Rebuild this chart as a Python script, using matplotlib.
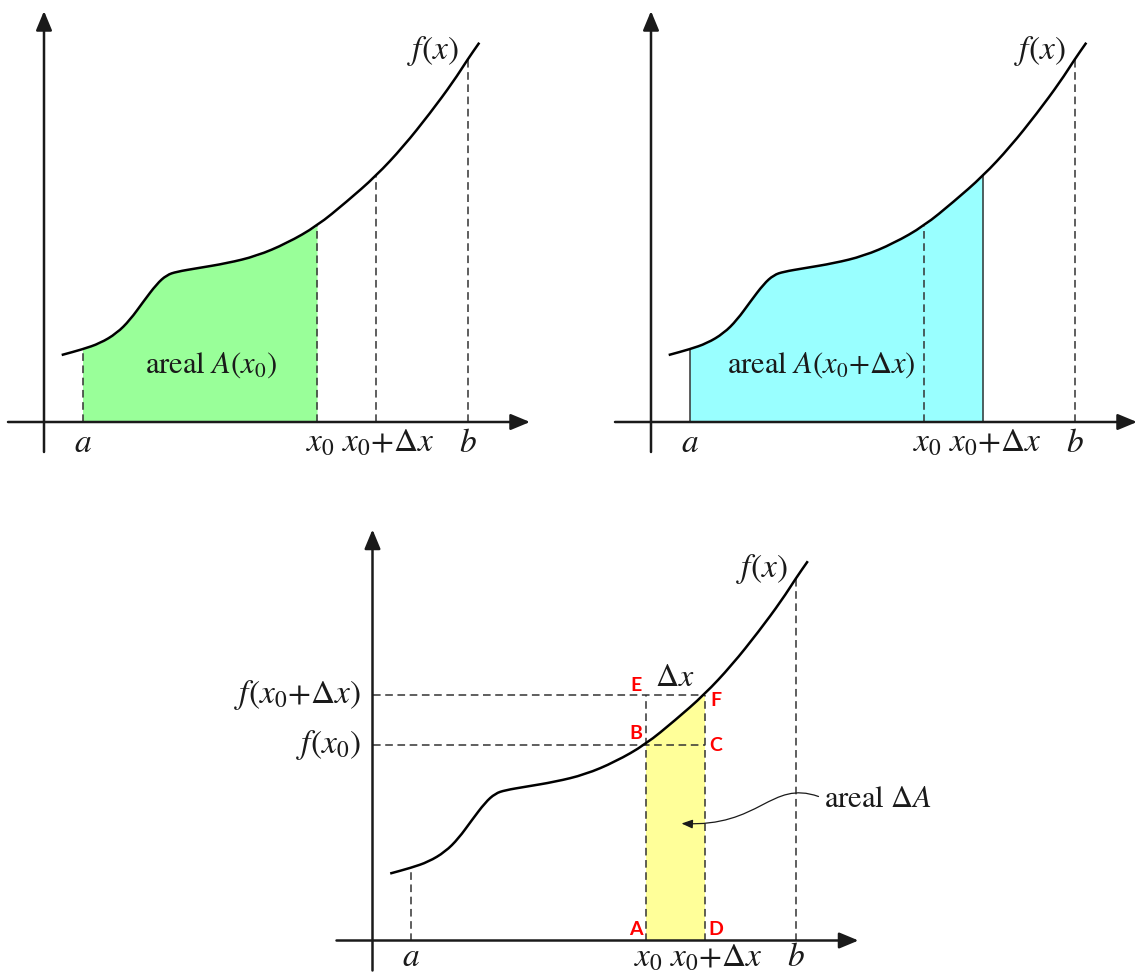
"""Areal under en kurve: A(x0), A(x0+dx) og tilvaeksten dA."""

import matplotlib
matplotlib.use('Agg')
import matplotlib.pyplot as plt
import numpy as np
from matplotlib.patches import FancyArrowPatch, PathPatch
from matplotlib.path import Path

plt.rcParams['mathtext.fontset'] = 'stix'
plt.rcParams['font.family'] = ['STIXGeneral', 'DejaVu Sans']

# kurven f(x), aflaest fra figuren (samme kurve i alle tre delfigurer)
curve_x = [17.7, 38.5, 56.0, 72.7, 86.0, 99.3, 112.7, 122.7, 132.7, 152.7,
           182.7, 212.7, 242.7, 273.0, 302.7, 332.0, 359.3, 386.0, 409.3,
           423.7, 435.3]
curve_y = [67.0, 72.7, 78.7, 88.7, 102.0, 120.3, 138.0, 147.0, 150.3, 153.7,
           158.7, 166.0, 178.7, 196.0, 220.3, 246.0, 275.3, 308.7, 340.3,
           362.7, 379.3]

# punkter paa x-aksen
pos_a = 38.5
pos_x0 = 273.0
pos_x1 = 332.0
pos_b = 423.7

tick_labels = ['$a$', '$x_0$', '$x_0{+}\\Delta x$', '$b$']
area_labels = ['areal $A(x_0)$', 'areal $A(x_0{+}\\Delta x)$', 'areal $\\Delta A$']
level_labels = ['$f(x_0{+}\\Delta x)$', '$f(x_0)$']
corner_labels = ['A', 'B', 'C', 'D', 'E', 'F']
fill_colors = ['#99ff99', '#99ffff', '#ffff99']

W, H = 1136, 974
DASH = (0, (5, 3))
INK = '#1a1a1a'


def fval(x):
    """Kurvens hoejde i et punkt paa x-aksen."""
    return float(np.interp(x, curve_x, curve_y))


def make_axes(fig, origin, box):
    """Axes hvor en enhed svarer til en pixel, med origo i akse-krydset."""
    ox, oy = origin
    left, top, right, bottom = box
    ax = fig.add_axes([left / W, (H - bottom) / H, (right - left) / W, (bottom - top) / H])
    ax.set_xlim(left - ox, right - ox)
    ax.set_ylim(oy - bottom, oy - top)
    ax.axis('off')
    return ax


def smooth_path(xs, ys):
    """Glat linje gennem de aflaeste punkter."""
    pts = np.column_stack([xs, ys])
    mids = (pts[:-1] + pts[1:]) / 2
    verts = [pts[0], mids[0]]
    codes = [Path.MOVETO, Path.LINETO]
    for i in range(1, len(pts) - 1):
        verts += [pts[i], mids[i]]
        codes += [Path.CURVE3, Path.CURVE3]
    verts.append(pts[-1])
    codes.append(Path.LINETO)
    return Path(verts, codes)


def fill_under(ax, lo, hi, color):
    xs = np.array(curve_x)
    ys = np.array(curve_y)
    inside = (xs > lo) & (xs < hi)
    fx = np.concatenate([[lo], xs[inside], [hi]])
    fy = np.concatenate([[fval(lo)], ys[inside], [fval(hi)]])
    ax.fill_between(fx, 0, fy, color=color, lw=0, zorder=1)


def vline(ax, x, top, dashed=True):
    ax.plot([x, x], [0, top], ls=DASH if dashed else '-', lw=1.1,
            color='#333333', zorder=2)


def draw_base(ax, label_y=-30):
    """Akser, kurve og tekst som er faelles for alle delfigurer."""
    for start, end in [((-36, 0), (486, 0)), ((0, -30), (0, 411))]:
        ax.add_patch(FancyArrowPatch(start, end,
                                     arrowstyle='-|>,head_length=0.65,head_width=0.27',
                                     mutation_scale=18, lw=1.8, color=INK,
                                     shrinkA=0, shrinkB=0, zorder=4))
    ax.add_patch(PathPatch(smooth_path(curve_x, curve_y), fill=False,
                           lw=1.8, color='black', zorder=5))
    ax.text(389, 371, '$f(x)$', ha='center', va='center', fontsize=24, color=INK)
    label_x = [pos_a, pos_x0 + 3, pos_x1 + 12, pos_b]
    for x, lab in zip(label_x, tick_labels):
        ax.text(x, label_y, lab, ha='center', va='baseline', fontsize=24, color=INK)


fig = plt.figure(figsize=(W / 100, H / 100), dpi=100)

# delfigur 1: areal A(x0)
ax1 = make_axes(fig, (44, 422), (0, 0, 560, 470))
fill_under(ax1, pos_a, pos_x0, fill_colors[0])
for x in [pos_a, pos_x0, pos_x1, pos_b]:
    vline(ax1, x, fval(x))
draw_base(ax1)
ax1.text(167, 57, area_labels[0], ha='center', va='center', fontsize=22, color=INK)

# delfigur 2: areal A(x0+dx)
ax2 = make_axes(fig, (651, 422), (560, 0, 1136, 470))
fill_under(ax2, pos_a, pos_x1, fill_colors[1])
vline(ax2, pos_a, fval(pos_a), dashed=False)
vline(ax2, pos_x1, fval(pos_x1), dashed=False)
vline(ax2, pos_x0, fval(pos_x0))
vline(ax2, pos_b, fval(pos_b))
draw_base(ax2)
ax2.text(170, 57, area_labels[1], ha='center', va='center', fontsize=22, color=INK)

# delfigur 3: tilvaeksten dA
ax3 = make_axes(fig, (372.5, 940.5), (200, 490, 1000, 974))
fill_under(ax3, pos_x0, pos_x1, fill_colors[2])
y0 = fval(pos_x0)
y1 = fval(pos_x1)
vline(ax3, pos_a, fval(pos_a))
vline(ax3, pos_b, fval(pos_b))
vline(ax3, pos_x0, y1)
vline(ax3, pos_x1, y1)
for y in [y0, y1]:
    ax3.plot([0, pos_x1], [y, y], ls=DASH, lw=1.1, color='#333333', zorder=2)
draw_base(ax3, label_y=-26)
ax3.text(-12, y1, level_labels[0], ha='right', va='center', fontsize=24, color=INK)
ax3.text(-12, y0, level_labels[1], ha='right', va='center', fontsize=24, color=INK)
ax3.text((pos_x0 + pos_x1) / 2, 262, '$\\Delta x$', ha='center', va='center',
         fontsize=23, color=INK)

left_x = pos_x0 - 10
right_x = pos_x1 + 11
corner_pos = [(left_x, 11), (left_x, 207), (right_x, 195), (right_x, 11),
              (left_x, 255), (right_x, 240)]
for (x, y), lab in zip(corner_pos, corner_labels):
    ax3.text(x, y, lab, ha='center', va='center', fontsize=14,
             fontweight='bold', color='#ff0000', family=['Lato', 'DejaVu Sans'])

ax3.text(451, 140, area_labels[2], ha='left', va='center', fontsize=22, color=INK)
pointer = Path([(446, 144), (398, 161), (388, 113), (309, 117)],
               [Path.MOVETO, Path.CURVE4, Path.CURVE4, Path.CURVE4])
ax3.add_patch(FancyArrowPatch(path=pointer,
                              arrowstyle='-|>,head_length=0.55,head_width=0.22',
                              mutation_scale=12, lw=0.9, color=INK, zorder=6))

fig.savefig('out.png', dpi=100)
